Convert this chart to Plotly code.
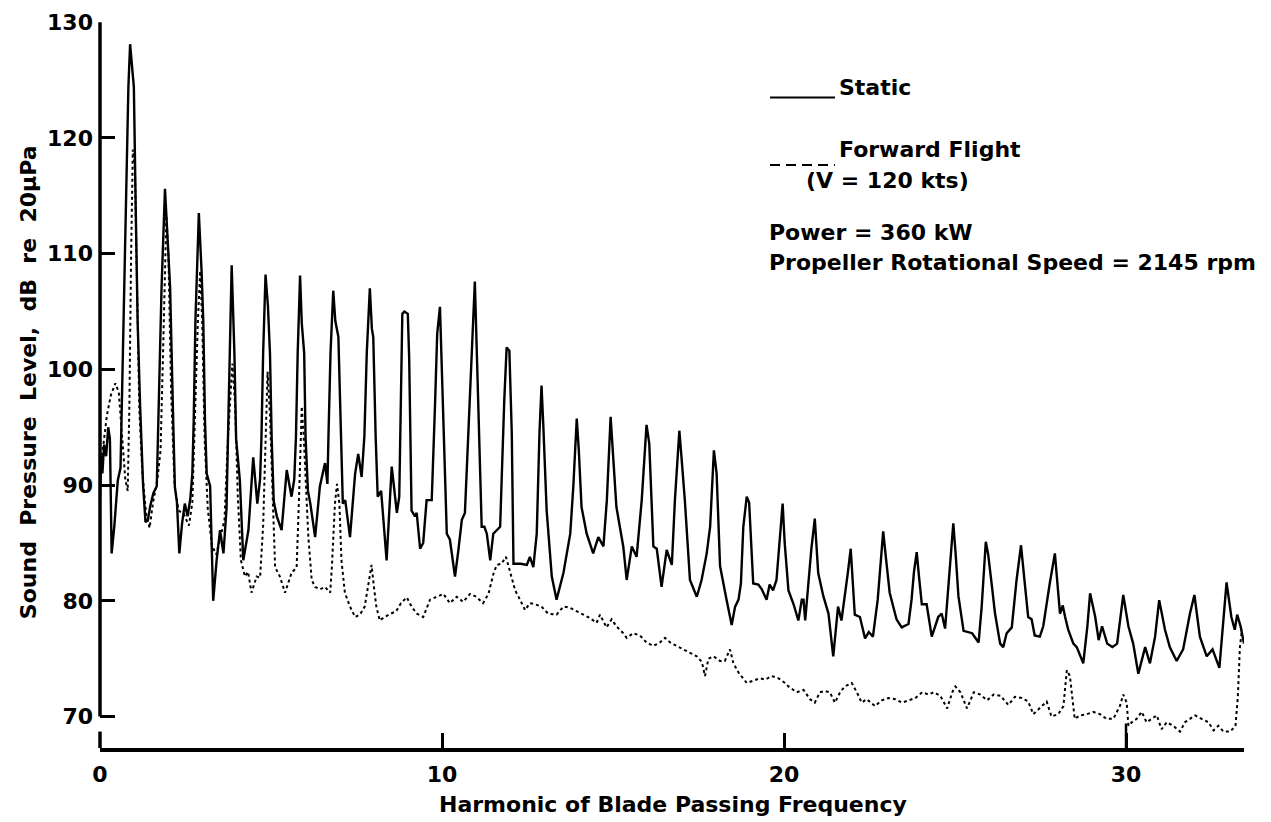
import plotly.graph_objects as go

# ---------------- data ----------------
static_x = [0.0, 0.03, 0.07, 0.12, 0.18, 0.24, 0.29, 0.34, 0.42, 0.52, 0.6, 0.65, 0.72, 0.78, 0.83, 0.88, 0.93, 0.99,
            1.05, 1.1, 1.17, 1.26, 1.33, 1.4, 1.47, 1.56, 1.66, 1.71, 1.80, 1.90, 1.97, 2.05, 2.14, 2.19, 2.25, 2.32,
            2.40, 2.48, 2.56, 2.64, 2.70, 2.74, 2.79, 2.89, 2.97, 3.02, 3.07, 3.12, 3.22, 3.31, 3.41, 3.51, 3.61,
            3.70, 3.75, 3.79, 3.85, 3.93, 3.98, 4.09, 4.19, 4.34, 4.48, 4.60, 4.68, 4.72, 4.77, 4.84, 4.91, 4.97,
            5.02, 5.08, 5.17, 5.31, 5.46, 5.60, 5.68, 5.73, 5.78, 5.85, 5.90, 5.97, 6.01, 6.08, 6.15, 6.29, 6.43,
            6.58, 6.65, 6.68, 6.74, 6.82, 6.88, 6.97, 7.04, 7.10, 7.17, 7.31, 7.46, 7.55, 7.65, 7.73, 7.80, 7.89,
            7.95, 7.99, 8.06, 8.12, 8.22, 8.38, 8.53, 8.68, 8.75, 8.78, 8.81, 8.84, 8.90, 9.00, 9.04, 9.06, 9.11,
            9.21, 9.26, 9.36, 9.45, 9.55, 9.70, 9.80, 9.86, 9.94, 9.99, 10.04, 10.14, 10.23, 10.38, 10.48, 10.58,
            10.67, 10.82, 10.90, 10.96, 11.03, 11.09, 11.16, 11.24, 11.31, 11.41, 11.50, 11.60, 11.70, 11.82,
            11.89, 11.97, 12.04, 12.09, 12.30, 12.48, 12.57, 12.67, 12.77, 12.85, 12.91, 12.96, 13.06, 13.21,
            13.35, 13.55, 13.75, 13.84, 13.94, 14.00, 14.08, 14.23, 14.42, 14.57, 14.72, 14.82, 14.93, 15.01,
            15.10, 15.30, 15.40, 15.55, 15.69, 15.84, 15.98, 16.06, 16.18, 16.28, 16.42, 16.57, 16.72, 16.81,
            16.94, 17.00, 17.10, 17.25, 17.45, 17.59, 17.74, 17.84, 17.95, 18.03, 18.13, 18.32, 18.47, 18.57,
            18.67, 18.74, 18.81, 18.91, 18.98, 19.10, 19.25, 19.35, 19.49, 19.58, 19.68, 19.78, 19.88, 19.96,
            20.02, 20.13, 20.28, 20.42, 20.52, 20.57, 20.62, 20.70, 20.80, 20.90, 21.00, 21.15, 21.30, 21.44,
            21.58, 21.68, 21.77, 21.87, 21.95, 22.07, 22.22, 22.37, 22.48, 22.60, 22.74, 22.83, 22.90, 22.97,
            23.09, 23.29, 23.44, 23.64, 23.73, 23.80, 23.88, 23.95, 24.03, 24.17, 24.32, 24.51, 24.61, 24.71,
            24.85, 24.95, 25.02, 25.10, 25.25, 25.50, 25.69, 25.78, 25.90, 25.97, 26.07, 26.17, 26.32, 26.41,
            26.51, 26.66, 26.80, 26.93, 27.04, 27.14, 27.24, 27.33, 27.48, 27.58, 27.77, 27.92, 28.07, 28.15,
            28.22, 28.31, 28.46, 28.56, 28.75, 28.87, 28.95, 29.10, 29.20, 29.30, 29.45, 29.60, 29.74, 29.84,
            29.92, 30.07, 30.21, 30.36, 30.56, 30.70, 30.85, 30.97, 31.14, 31.28, 31.48, 31.67, 31.87, 32.00,
            32.16, 32.36, 32.53, 32.73, 32.85, 32.94, 33.08, 33.18, 33.25, 33.35, 33.45]
static_y = [89.0, 92.5, 91.0, 93.5, 92.5, 95.0, 94.0, 84.1, 86.5, 90.4, 91.5, 98.5, 107.1, 115.8, 124.4, 128.1, 126.0, 124.4,
            112.9, 104.2, 97.1, 90.0, 86.8, 87.0, 88.2, 89.3, 89.9, 95.6, 107.1, 115.6, 111.5, 107.1, 95.6, 89.8, 88.5, 84.1,
            86.7, 88.4, 87.3, 88.8, 91.0, 95.6, 104.2, 113.5, 108.5, 104.2, 95.6, 91.0, 89.9, 80.0, 83.5, 86.1, 84.1,
            88.0, 95.2, 101.4, 109.0, 101.4, 94.0, 90.4, 83.5, 86.1, 92.4, 88.4, 90.5, 94.0, 101.4, 108.2, 105.5, 101.4,
            94.0, 88.6, 87.3, 86.1, 91.3, 89.0, 90.5, 94.2, 101.4, 108.1, 104.0, 101.4, 94.2, 89.5, 88.4, 85.5, 89.9,
            91.9, 90.1, 94.2, 101.4, 106.8, 104.2, 102.8, 94.2, 88.4, 88.7, 85.5, 91.0, 92.7, 90.7, 94.2, 101.4, 107.0,
            103.5, 102.8, 94.2, 89.0, 89.5, 83.5, 91.6, 87.6, 89.0, 94.2, 101.4, 104.8, 105.0, 104.8, 101.0, 97.3, 87.8,
            87.3, 87.6, 84.5, 85.0, 88.7, 88.7, 97.3, 103.1, 105.4, 100.2, 95.9, 85.8, 85.3, 82.1, 84.4, 87.0,
            87.6, 97.3, 103.1, 107.6, 100.2, 93.0, 86.4, 86.4, 85.8, 83.5, 85.8, 86.1, 86.4, 97.3,
            101.9, 101.6, 94.5, 83.2, 83.2, 83.1, 83.8, 82.9, 85.8, 94.5, 98.6, 95.3, 87.8, 82.1,
            80.1, 82.4, 85.8, 89.9, 95.75, 93.0, 88.1, 85.8, 84.1, 85.5, 84.7, 88.7, 95.9, 92.2,
            88.1, 84.7, 81.8, 84.7, 83.8, 88.7, 95.2, 93.6, 84.7, 84.5, 81.2, 84.4, 83.1, 88.7,
            94.7, 92.5, 88.7, 81.8, 80.35, 81.8, 84.1, 86.4, 93.0, 91.0, 83.0, 80.1, 77.9, 79.5,
            80.1, 81.5, 86.4, 89.0, 88.5, 81.5, 81.4, 81.0, 80.1, 81.4, 80.9, 81.8, 85.8, 88.4,
            85.0, 80.9, 79.7, 78.3, 80.1, 80.1, 78.3, 81.2, 84.5, 87.1, 82.4, 80.4, 78.9, 75.2,
            79.5, 78.3, 80.1, 82.5, 84.5, 78.8, 78.6, 76.75, 77.3, 76.9, 80.1, 83.5, 86.0, 84.0,
            80.7, 78.4, 77.7, 78.0, 80.1, 82.5, 84.2, 82.0, 79.7, 79.7, 76.9, 78.6, 78.9, 77.6,
            82.8, 86.7, 84.0, 80.4, 77.4, 77.2, 76.4, 79.5, 85.1, 84.0, 81.5, 78.9, 76.3, 76.0,
            77.2, 77.7, 81.8, 84.8, 81.5, 78.6, 78.4, 77.0, 76.9, 77.8, 81.5, 84.1, 78.9, 79.6,
            78.6, 77.5, 76.3, 76.0, 74.6, 77.8, 80.65, 78.6, 76.6, 77.8, 76.3, 76.0, 76.3, 78.6,
            80.5, 77.8, 76.3, 73.7, 76.0, 74.6, 76.9, 80.06, 77.5, 76.0, 74.8, 75.8, 78.9, 80.5,
            76.9, 75.2, 75.8, 74.2, 78.6, 81.6, 78.6, 77.5, 78.8, 77.8, 76.3]

flight_x = [0.02, 0.10, 0.20, 0.32, 0.45, 0.55, 0.65, 0.74, 0.81, 0.86, 0.91, 0.96, 1.02, 1.08, 1.15, 1.24, 1.35,
            1.45, 1.55, 1.68, 1.77, 1.84, 1.94, 2.00, 2.08, 2.18, 2.30, 2.45, 2.60, 2.70, 2.78, 2.86, 2.93, 2.99,
            3.06, 3.15, 3.27, 3.40, 3.52, 3.64, 3.74, 3.87, 3.95, 4.03, 4.12, 4.24, 4.33, 4.43, 4.58, 4.68, 4.77,
            4.84, 4.90, 4.97, 5.05, 5.12, 5.26, 5.41, 5.60, 5.75, 5.83, 5.90, 5.96, 6.02, 6.09, 6.19, 6.29, 6.43,
            6.58, 6.73, 6.78, 6.87, 6.93, 7.00, 7.06, 7.16, 7.31, 7.46, 7.60, 7.74, 7.84, 7.94, 8.01, 8.08, 8.18,
            8.32, 8.51, 8.66, 8.80, 8.97, 9.11, 9.26, 9.45, 9.65, 9.85, 10.04, 10.23, 10.43, 10.62, 10.82, 11.00,
            11.20, 11.36, 11.50, 11.60, 11.74, 11.87, 11.99, 12.14, 12.28, 12.43, 12.57, 12.72, 12.91, 13.10,
            13.35, 13.55, 13.74, 13.94, 14.08, 14.33, 14.52, 14.62, 14.81, 14.96, 15.10, 15.30, 15.40, 15.59,
            15.79, 15.98, 16.18, 16.37, 16.52, 16.67, 16.86, 17.06, 17.25, 17.45, 17.60, 17.69, 17.79, 17.94,
            18.13, 18.27, 18.42, 18.52, 18.67, 18.91, 19.10, 19.30, 19.45, 19.64, 19.84, 20.03, 20.13, 20.37,
            20.57, 20.76, 20.90, 21.05, 21.20, 21.34, 21.49, 21.64, 21.78, 21.98, 22.13, 22.27, 22.42, 22.66,
            22.86, 23.06, 23.25, 23.45, 23.65, 23.84, 24.04, 24.23, 24.38, 24.57, 24.77, 24.92, 25.01, 25.16,
            25.35, 25.55, 25.74, 25.94, 26.13, 26.33, 26.56, 26.75, 26.95, 27.14, 27.29, 27.48, 27.68, 27.82,
            28.02, 28.17, 28.27, 28.36, 28.44, 28.50, 28.65, 28.85, 29.04, 29.24, 29.43, 29.63, 29.82, 29.92,
            30.02, 30.07, 30.17, 30.31, 30.46, 30.60, 30.75, 30.90, 31.04, 31.19, 31.38, 31.58, 31.72, 31.87,
            32.02, 32.21, 32.41, 32.56, 32.70, 32.85, 33.05, 33.20, 33.27, 33.33, 33.39]
flight_y = [91.5, 93.5, 96.0, 97.8, 98.8, 98.0, 94.0, 90.5, 89.5, 97.0, 110.0, 119.0, 117.5, 106.0, 96.5, 91.0, 87.5,
            86.3, 88.5, 90.5, 93.0, 101.0, 113.3, 110.0, 98.0, 90.0, 87.8, 87.5, 86.5, 88.5, 96.0, 104.0, 108.5, 104.0,
            94.0, 88.0, 84.8, 84.0, 85.5, 87.0, 94.0, 100.5, 97.0, 89.0, 83.5, 82.1, 82.5, 80.7, 82.1, 82.0, 86.5,
            95.0, 99.8, 96.0, 88.0, 82.9, 82.1, 80.7, 82.4, 82.9, 89.9, 96.8, 94.0, 89.5, 85.6, 81.8, 81.2, 81.0,
            81.2, 80.7, 82.9, 88.4, 90.1, 88.4, 83.5, 80.7, 79.5, 78.6, 78.8, 79.5, 81.2, 83.1, 81.2, 79.5, 78.3,
            78.6, 78.9, 79.1, 79.8, 80.3, 79.5, 78.9, 78.6, 80.1, 80.35, 80.6, 79.8, 80.35, 79.9, 80.6, 80.35,
            79.8, 80.6, 82.3, 83.1, 83.2, 83.8, 82.6, 80.9, 80.1, 79.2, 79.8, 79.7, 79.5, 78.9,
            78.8, 79.5, 79.4, 79.1, 78.9, 78.5, 78.1, 78.8, 77.7, 78.4, 77.8, 77.2, 76.8, 77.2,
            77.0, 76.4, 76.1, 76.4, 76.8, 76.4, 76.1, 75.8, 75.5, 75.2, 74.7, 73.5, 75.0, 75.2,
            74.8, 74.8, 75.8, 74.6, 73.8, 72.9, 73.1, 73.3, 73.2, 73.5, 73.3, 72.9, 72.6, 72.1,
            72.3, 71.5, 71.2, 72.1, 72.2, 72.1, 71.2, 72.1, 72.6, 72.9, 72.1, 71.2, 71.5, 70.9,
            71.4, 71.6, 71.5, 71.2, 71.4, 71.6, 72.1, 71.9, 72.1, 71.8, 70.7, 72.1, 72.6, 72.1,
            70.7, 72.1, 71.9, 71.4, 71.9, 71.8, 71.0, 71.7, 71.6, 71.3, 70.2, 70.7, 71.3, 70.0,
            70.2, 70.9, 74.0, 73.5, 71.2, 69.8, 70.1, 70.2, 70.4, 70.2, 69.8, 69.8, 70.9, 71.9,
            71.2, 69.2, 69.5, 69.8, 70.4, 69.5, 69.8, 70.1, 68.9, 69.5, 69.2, 68.7, 69.5, 69.8,
            70.1, 69.8, 69.5, 68.8, 69.2, 68.7, 68.7, 69.2, 71.7, 76.0, 77.5]

x_ticks = [0, 10, 20, 30]
y_ticks = [70, 80, 90, 100, 110, 120, 130]

FONT = "DejaVu Sans"
NB = "\u00a0"

fig = go.Figure()
fig.add_trace(go.Scatter(x=static_x, y=static_y, mode="lines", name="Static",
                         line=dict(color="black", width=2.4), showlegend=False))
fig.add_trace(go.Scatter(x=flight_x, y=flight_y, mode="lines", name="Forward Flight",
                         line=dict(color="black", width=2, dash="3px,3px"), showlegend=False))

# axis geometry
Y_LO, Y_HI = 67.28, 130.02
shapes = [
    # main vertical axis (broken below 70)
    dict(type="line", xref="paper", yref="y", x0=0, x1=0, y0=70, y1=130, line=dict(color="black", width=3.5)),
    dict(type="line", xref="paper", yref="y", x0=0, x1=0, y0=Y_LO, y1=68.7, line=dict(color="black", width=3.5)),
    # taller tick at 30
    dict(type="line", xref="x", yref="y", x0=30, x1=30, y0=Y_LO, y1=69.4, line=dict(color="black", width=2.5)),
    # legend samples
    dict(type="line", xref="paper", yref="paper", x0=0.5857, x1=0.6425, y0=0.8960, y1=0.8960,
         line=dict(color="black", width=2)),
    dict(type="line", xref="paper", yref="paper", x0=0.5857, x1=0.6425, y0=0.8030, y1=0.8030,
         line=dict(color="black", width=2, dash="10px,6px")),
]

def ann(text, x, y, size=22, xanchor="left", yanchor="middle", angle=0):
    return dict(text=text, x=x, y=y, xref="paper", yref="paper", showarrow=False,
                xanchor=xanchor, yanchor=yanchor, textangle=angle,
                font=dict(family=FONT, size=size, color="black", weight="bold"))

ytitle = (NB * 2).join(["Sound", "Pressure", "Level,", "dB", "re", "20\u03bcPa"])

annotations = [
    ann("Static", 0.6442, 0.9091, size=22),
    ann("Forward Flight", 0.6442, 0.8237, size=22),
    ann("(V = 120 kts)", 0.6154, 0.7810, size=22),
    ann("Power = 360 kW", 0.5830, 0.7094, size=22),
    ann("Propeller Rotational Speed = 2145 rpm", 0.5830, 0.6694, size=22),
    ann("Harmonic of Blade Passing Frequency", 0.5009, -0.0775, size=22, xanchor="center"),
    ann(ytitle, -0.0629, 0.504, size=22, xanchor="center", angle=-90),
]

fig.update_layout(
    width=1263, height=814,
    margin=dict(l=92, r=27, t=14, b=74, pad=0, autoexpand=False),
    paper_bgcolor="white", plot_bgcolor="white",
    font=dict(family=FONT, size=22, color="black"),
    shapes=shapes, annotations=annotations,
    xaxis=dict(range=[0, 33.45], tickvals=x_ticks, ticktext=[str(v) for v in x_ticks],
               ticks="inside", ticklen=15, tickwidth=2.5, tickcolor="black",
               showline=True, linewidth=3.5, linecolor="black", mirror=False, automargin=False,
               showgrid=False, zeroline=False, ticklabelstandoff=4,
               tickfont=dict(family=FONT, size=22, color="black", weight="bold")),
    yaxis=dict(range=[Y_LO, Y_HI], tickvals=y_ticks, ticktext=[str(v) for v in y_ticks],
               ticks="inside", ticklen=15, tickwidth=2.5, tickcolor="black", automargin=False,
               showline=False, showgrid=False, zeroline=False, ticklabelstandoff=6,
               tickfont=dict(family=FONT, size=22, color="black", weight="bold")),
)

fig.write_html("out.html")
